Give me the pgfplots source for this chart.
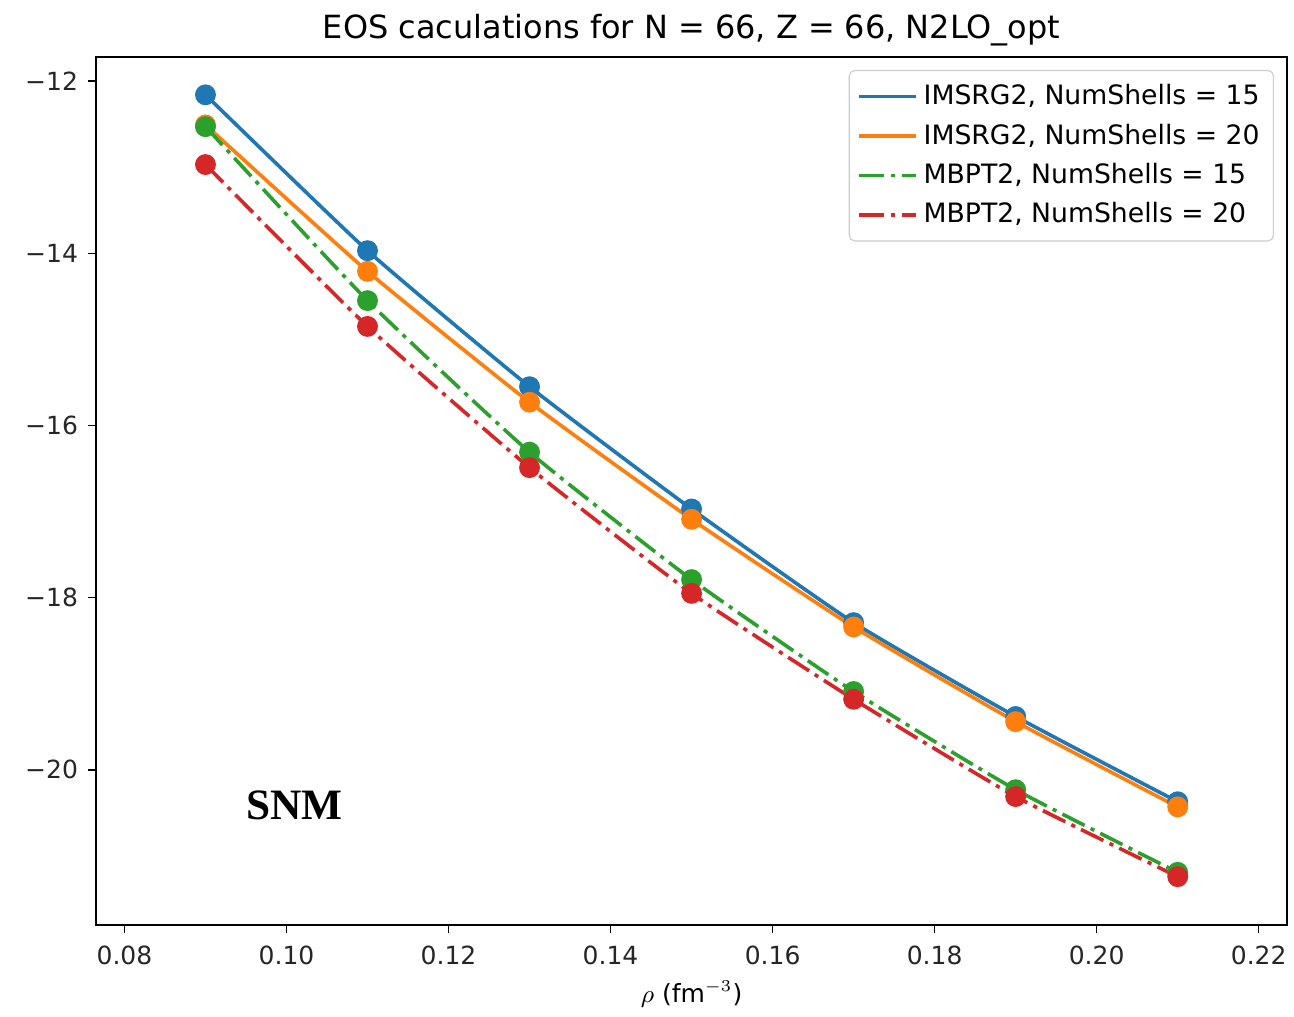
\documentclass[border=0pt]{standalone}
\usepackage{pgfplots}
\pgfplotsset{compat=1.18}
\usepackage{fontspec}
\setmainfont{DejaVu Sans}
\newfontfamily\snmfont{Liberation Serif}
\definecolor{tabblue}{HTML}{1F77B4}
\definecolor{taborange}{HTML}{FF7F0E}
\definecolor{tabgreen}{HTML}{2CA02C}
\definecolor{tabred}{HTML}{D62728}
\begin{document}
\begin{tikzpicture}
\begin{axis}[
  scale only axis,
  width=428.8pt, height=312.5pt,
  xmin=0.0765, xmax=0.2235,
  ymin=-21.8, ymax=-11.72,
  xtick={0.08,0.10,0.12,0.14,0.16,0.18,0.20,0.22},
  xticklabels={0.08,0.10,0.12,0.14,0.16,0.18,0.20,0.22},
  ytick={-20,-18,-16,-14,-12},
  yticklabels={−20,−18,−16,−14,−12},
  tick align=outside, xtick pos=left, ytick pos=left,
  major tick length=3pt,
  tick style={black, line width=0.5pt},
  axis line style={line width=0.5pt},
  tick label style={font=\fontsize{9}{10}\selectfont, text=black!85},
  xticklabel style={yshift=-1pt},
  title={EOS caculations for N = 66, Z = 66, N2LO\_opt},
  title style={font=\fontsize{11.5}{13}\selectfont, yshift=-5.5pt},
  xlabel={$\rho$ (fm$^{-3}$)},
  xlabel style={font=\fontsize{9}{10}\selectfont, yshift=1pt},
  legend style={at={(0.989,0.985)}, anchor=north east, font=\fontsize{9.6}{11}\selectfont,
    draw=black!20, rounded corners=2pt, inner sep=3pt, row sep=1.4pt,
    cells={anchor=west},
    /tikz/every even column/.append style={column sep=4pt}},
  legend image code/.code={\draw[#1] (0cm,0cm) -- (0.72cm,0cm);},
  every axis plot/.append style={line width=1.3pt, mark=*, mark size=3.1pt, smooth, tension=0.3},
]
\addplot[tabblue, mark options={solid, fill=tabblue}] coordinates {
(0.09,-12.16) (0.11,-13.97) (0.13,-15.55) (0.15,-16.97) (0.17,-18.29) (0.19,-19.38) (0.21,-20.37)};
\addlegendentry{IMSRG2, NumShells = 15}
\addplot[taborange, mark options={solid, fill=taborange}] coordinates {
(0.09,-12.51) (0.11,-14.21) (0.13,-15.73) (0.15,-17.09) (0.17,-18.34) (0.19,-19.44) (0.21,-20.43)};
\addlegendentry{IMSRG2, NumShells = 20}
\addplot[tabgreen, dash pattern=on 9pt off 2.4pt on 1.5pt off 2.4pt, mark options={solid, fill=tabgreen}] coordinates {
(0.09,-12.53) (0.11,-14.55) (0.13,-16.31) (0.15,-17.79) (0.17,-19.09) (0.19,-20.23) (0.21,-21.19)};
\addlegendentry{MBPT2, NumShells = 15}
\addplot[tabred, dash pattern=on 9pt off 2.4pt on 1.5pt off 2.4pt, mark options={solid, fill=tabred}] coordinates {
(0.09,-12.97) (0.11,-14.85) (0.13,-16.49) (0.15,-17.95) (0.17,-19.18) (0.19,-20.31) (0.21,-21.24)};
\addlegendentry{MBPT2, NumShells = 20}
\node[font=\snmfont\bfseries\fontsize{15.6}{17}\selectfont, anchor=center] at (axis cs:0.101,-20.41) {SNM};
\end{axis}
\pgfresetboundingbox
\useasboundingbox (current axis.south west) ++(-34.6pt,-33pt) rectangle ([xshift=2.5pt,yshift=20.5pt]current axis.north east);
\end{tikzpicture}
\end{document}
